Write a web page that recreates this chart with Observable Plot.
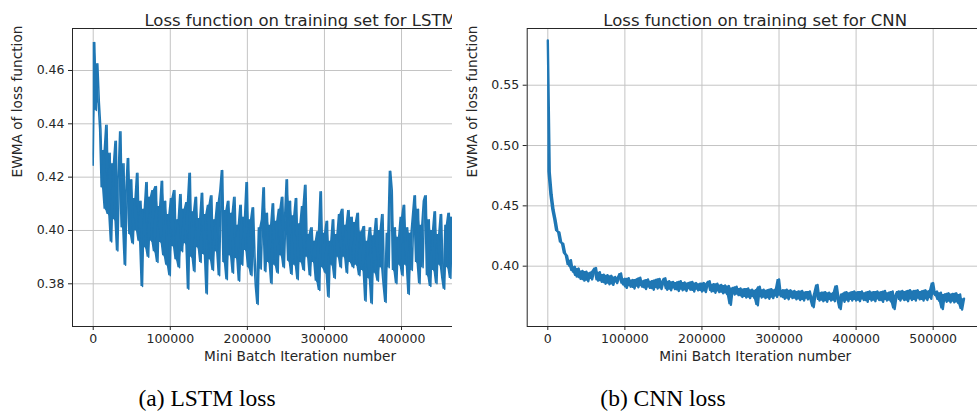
<!DOCTYPE html>
<html>
<head>
<meta charset="utf-8">
<script src="https://cdn.jsdelivr.net/npm/d3@7"></script>
<script src="https://cdn.jsdelivr.net/npm/@observablehq/plot@0.6"></script>
<style>
  html, body { margin: 0; padding: 0; background: #fff; }
  #wrap { position: relative; width: 977px; height: 415px; overflow: hidden; background: #fff; }
  #a { position: absolute; left: 0; top: 0; width: 452px; height: 380px; overflow: hidden; }
  #b { position: absolute; left: 460px; top: 0; width: 517px; height: 380px; overflow: hidden; }
  #a svg, #b svg { max-width: none !important; }
  .cap { position: absolute; top: 385px; font-family: "Liberation Serif", "Times New Roman", serif; font-size: 23.5px; line-height: 27px; color: #000; white-space: nowrap; transform: translateX(-50%); }
</style>
</head>
<body>
<div id="wrap">
  <div id="a"></div>
  <div id="b"></div>
  <div class="cap" style="left:207px">(a) LSTM loss</div>
  <div class="cap" style="left:663px">(b) CNN loss</div>
</div>
<script>
// ---- LSTM panel data (iteration step 2000) ----
const lstmStep = 2000;
const lstmLoss = [
  0.4245, 0.4705, 0.4450, 0.4625, 0.4480, 0.4380, 0.4160, 0.4300, 0.4080, 0.4395,
  0.4060, 0.4290, 0.3957, 0.4250, 0.4040, 0.4335, 0.3923, 0.4200, 0.4370, 0.4010,
  0.4250, 0.3870, 0.4150, 0.4270, 0.3985, 0.4190, 0.3950, 0.4120, 0.4000, 0.4215,
  0.3960, 0.4110, 0.3790, 0.4080, 0.3935, 0.4180, 0.3900, 0.4125, 0.3960, 0.4150,
  0.3920, 0.4165, 0.3880, 0.4090, 0.3955, 0.4185, 0.3905, 0.4110, 0.3870, 0.4060,
  0.3830, 0.4120, 0.3940, 0.4150, 0.3890, 0.4040, 0.3860, 0.4135, 0.3920, 0.4080,
  0.3950, 0.4105, 0.3780, 0.4215, 0.3900, 0.4070, 0.3845, 0.4125, 0.3935, 0.4045,
  0.3880, 0.4140, 0.3910, 0.4060, 0.3762, 0.4095, 0.3890, 0.4130, 0.3850, 0.4040,
  0.3920, 0.4105, 0.3830, 0.4150, 0.4225, 0.3880, 0.4075, 0.3815, 0.4110, 0.3905,
  0.4065, 0.3840, 0.4125, 0.3895, 0.4020, 0.3810, 0.4095, 0.3870, 0.4050, 0.3925,
  0.4180, 0.3860, 0.4040, 0.3830, 0.4085, 0.3900, 0.3790, 0.3722, 0.4010, 0.3855,
  0.4040, 0.4160, 0.3845, 0.4065, 0.3880, 0.4020, 0.3800, 0.4100, 0.3870, 0.4035,
  0.3840, 0.4080, 0.3905, 0.4125, 0.3860, 0.4050, 0.4190, 0.3885, 0.4110, 0.3835,
  0.4055, 0.3870, 0.4120, 0.3815, 0.4025, 0.3880, 0.4090, 0.3850, 0.4170, 0.3900,
  0.3985, 0.3830, 0.4010, 0.3880, 0.3960, 0.3810, 0.3995, 0.3775, 0.4145, 0.3860,
  0.3990, 0.3840, 0.4035, 0.3750, 0.3960, 0.3870, 0.4040, 0.3820, 0.3985, 0.3900,
  0.4060, 0.3860, 0.4080, 0.3900, 0.4020, 0.3840, 0.4075, 0.3880, 0.4050, 0.3860,
  0.4030, 0.3870, 0.4065, 0.3830, 0.3995, 0.3850, 0.4015, 0.3735, 0.3960, 0.3820,
  0.4010, 0.3725, 0.3980, 0.3840, 0.4045, 0.3810, 0.4000, 0.3860, 0.4060, 0.3790,
  0.3730, 0.3990, 0.3860, 0.4222, 0.4150, 0.3850, 0.4010, 0.3800, 0.3975, 0.3870,
  0.4050, 0.3830, 0.4095, 0.3870, 0.4010, 0.3760, 0.3990, 0.3850, 0.4060, 0.4130,
  0.3880, 0.4080, 0.3800, 0.4020, 0.3860, 0.4110, 0.4130, 0.3830, 0.4040, 0.3790,
  0.4000, 0.3850, 0.4070, 0.3800, 0.3985, 0.3870, 0.4060, 0.3820, 0.3780, 0.4020,
  0.3860, 0.4065, 0.3820, 0.4050, 0.3900, 0.4060, 0.3850
];

// ---- CNN panel data (iteration step 2500) ----
const cnnStep = 2500;
const cnnLoss = [
  0.5870, 0.4780, 0.4590, 0.4465, 0.4385, 0.4290, 0.4280, 0.4195, 0.4185, 0.4105,
  0.4085, 0.4005, 0.4050, 0.3955, 0.3995, 0.3915, 0.3980, 0.3895, 0.3960, 0.3880,
  0.3955, 0.3875, 0.3945, 0.3890, 0.3960, 0.3985, 0.3880, 0.3950, 0.3870, 0.3930,
  0.3855, 0.3925, 0.3850, 0.3920, 0.3845, 0.3910, 0.3860, 0.3905, 0.3940, 0.3850,
  0.3895, 0.3820, 0.3900, 0.3830, 0.3885, 0.3815, 0.3890, 0.3825, 0.3905, 0.3830,
  0.3880, 0.3810, 0.3890, 0.3820, 0.3875, 0.3805, 0.3885, 0.3815, 0.3895, 0.3810,
  0.3870, 0.3900, 0.3805, 0.3875, 0.3800, 0.3870, 0.3810, 0.3865, 0.3795, 0.3875,
  0.3800, 0.3865, 0.3795, 0.3860, 0.3805, 0.3870, 0.3790, 0.3860, 0.3800, 0.3855,
  0.3790, 0.3860, 0.3785, 0.3855, 0.3875, 0.3790, 0.3850, 0.3780, 0.3855, 0.3785,
  0.3845, 0.3775, 0.3840, 0.3770, 0.3835, 0.3680, 0.3820, 0.3765, 0.3830, 0.3760,
  0.3815, 0.3745, 0.3810, 0.3740, 0.3815, 0.3735, 0.3805, 0.3740, 0.3800, 0.3675,
  0.3830, 0.3740, 0.3805, 0.3735, 0.3800, 0.3730, 0.3810, 0.3735, 0.3805, 0.3745,
  0.3890, 0.3750, 0.3800, 0.3730, 0.3805, 0.3725, 0.3800, 0.3735, 0.3795, 0.3725,
  0.3790, 0.3720, 0.3795, 0.3715, 0.3785, 0.3725, 0.3790, 0.3720, 0.3660, 0.3775,
  0.3845, 0.3715, 0.3780, 0.3710, 0.3785, 0.3705, 0.3780, 0.3715, 0.3775, 0.3710,
  0.3835, 0.3720, 0.3645, 0.3770, 0.3705, 0.3785, 0.3710, 0.3780, 0.3715, 0.3790,
  0.3715, 0.3785, 0.3710, 0.3790, 0.3720, 0.3780, 0.3705, 0.3790, 0.3715, 0.3785,
  0.3710, 0.3790, 0.3720, 0.3785, 0.3705, 0.3795, 0.3715, 0.3780, 0.3710, 0.3790,
  0.3645, 0.3755, 0.3790, 0.3715, 0.3795, 0.3720, 0.3790, 0.3710, 0.3800, 0.3720,
  0.3795, 0.3715, 0.3800, 0.3725, 0.3790, 0.3715, 0.3800, 0.3720, 0.3795, 0.3730,
  0.3860, 0.3760, 0.3790, 0.3715, 0.3780, 0.3645, 0.3765, 0.3705, 0.3775, 0.3700,
  0.3770, 0.3700, 0.3775, 0.3695, 0.3765, 0.3640, 0.3730
];

// ---- ticks and labels ----
const xTicksA = [0, 100000, 200000, 300000, 400000];
const yTicksA = [0.38, 0.40, 0.42, 0.44, 0.46];
const xTicksB = [0, 100000, 200000, 300000, 400000, 500000];
const yTicksB = [0.40, 0.45, 0.50, 0.55];
const titleA = "Loss function on training set for LSTM";
const titleB = "Loss function on training set for CNN";
const xLabel = "Mini Batch Iteration number";
const yLabel = "EWMA of loss function";

// rows: each point plus the span it shares with the next point (dense-line fill)
function rows(values, step) {
  return values.map((v, i) => {
    const n = i + 1 < values.length ? values[i + 1] : v;
    return {iter: i * step, loss: v, lo: Math.min(v, n), hi: Math.max(v, n)};
  });
}
const lstmData = rows(lstmLoss, lstmStep);
const cnnData = rows(cnnLoss, cnnStep);

const blue = "#1f77b4";
const gridColor = "#c4c4c4";
const ink = "#262626";

function panel({data, xDomain, yDomain, xTicks, yTicks, yFmt, title, width, marginLeft, marginRight, lineWidth}) {
  return Plot.plot({
    width, height: 380,
    marginLeft, marginRight, marginTop: 28, marginBottom: 54,
    x: {domain: xDomain},
    y: {domain: yDomain},
    style: {fontFamily: "DejaVu Sans", fontSize: "12.5px", color: ink, background: "transparent", maxWidth: "none"},
    marks: [
      Plot.gridX({ticks: xTicks, stroke: gridColor, strokeOpacity: 1, strokeWidth: 1}),
      Plot.gridY({ticks: yTicks, stroke: gridColor, strokeOpacity: 1, strokeWidth: 1}),
      Plot.areaY(data, {x: "iter", y1: "lo", y2: "hi", fill: blue, clip: true}),
      Plot.line(data, {x: "iter", y: "loss", stroke: blue, strokeWidth: lineWidth, clip: true}),
      Plot.frame({stroke: ink, strokeWidth: 1}),
      Plot.axisX({ticks: xTicks, tickSize: 4, tickPadding: 4, tickFormat: d => String(d), label: null, stroke: ink}),
      Plot.axisY({ticks: yTicks, tickSize: 4, tickPadding: 4, tickFormat: yFmt, label: null, stroke: ink}),
      Plot.text([title], {text: d => d, frameAnchor: "top", dy: -14, fontSize: 16.5, fill: ink}),
      Plot.text([xLabel], {text: d => d, frameAnchor: "bottom", dy: 34, fontSize: 13.7, fill: ink}),
      Plot.text([yLabel], {text: d => d, frameAnchor: "left", dx: -55, rotate: -90, fontSize: 13.7, fill: ink})
    ]
  });
}

document.getElementById("a").append(panel({
  data: lstmData,
  xDomain: [-26860, 563700],
  yDomain: [0.36399, 0.47575],
  xTicks: xTicksA, yTicks: yTicksA, yFmt: d => d.toFixed(2),
  title: titleA, width: 540, marginLeft: 72, marginRight: 12.8, lineWidth: 1.5
}));

document.getElementById("b").append(panel({
  data: cnnData,
  xDomain: [-26730, 564900],
  yDomain: [0.35, 0.597],
  xTicks: xTicksB, yTicks: yTicksB, yFmt: d => d.toFixed(2),
  title: titleB, width: 535, marginLeft: 66.7, marginRight: 12.3, lineWidth: 2.4
}));
</script>
</body>
</html>
